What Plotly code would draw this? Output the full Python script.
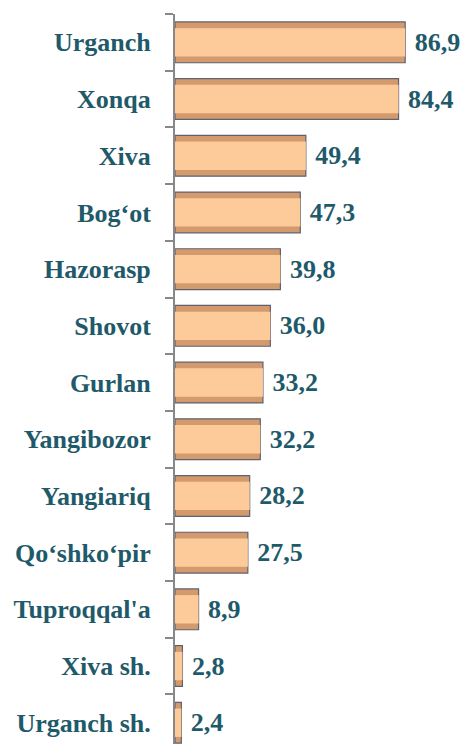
import plotly.graph_objects as go

districts = ["Urganch", "Xonqa", "Xiva", "Bog‘ot", "Hazorasp", "Shovot", "Gurlan",
             "Yangibozor", "Yangiariq", "Qo‘shko‘pir", "Tuproqqal'a",
             "Xiva sh.", "Urganch sh."]
values = [86.9, 84.4, 49.4, 47.3, 39.8, 36.0, 33.2, 32.2, 28.2, 27.5, 8.9, 2.8, 2.4]
labels = [f"{v:.1f}".replace(".", ",") for v in values]

text_color = "#1f5a6a"
font = "Liberation Serif"

fig = go.Figure()
# outer bar (bevel edge)
fig.add_trace(go.Bar(
    y=districts, x=values, orientation="h", width=0.72,
    marker=dict(color="#d39a6e", line=dict(color="#5f6070", width=1.2)),
    text=labels, texttemplate="\u00a0%{text}", textposition="outside",
    textfont=dict(family=font, size=26, color=text_color, weight="bold"),
    cliponaxis=False, hoverinfo="skip",
))
# inner highlight
fig.add_trace(go.Bar(
    y=districts, x=values, orientation="h", width=0.5,
    marker=dict(color="#fdcb9a", line=dict(width=0)),
    hoverinfo="skip",
))

fig.update_layout(
    width=461, height=736,
    barmode="overlay",
    showlegend=False,
    plot_bgcolor="white", paper_bgcolor="white",
    margin=dict(l=167, r=0, t=6, b=0),
    xaxis=dict(range=[0, 111], visible=False),
    yaxis=dict(
        range=[12.375, -0.5], automargin=False,
        showline=True, linecolor="#888888", linewidth=2,
        ticks="outside", ticklen=8, tickcolor="#888888", tickwidth=2,
        tickson="boundaries", ticklabelstandoff=17,
        tickfont=dict(family=font, size=26, color=text_color, weight="bold"),
        showgrid=False,
    ),
)

fig.write_html("out.html")
